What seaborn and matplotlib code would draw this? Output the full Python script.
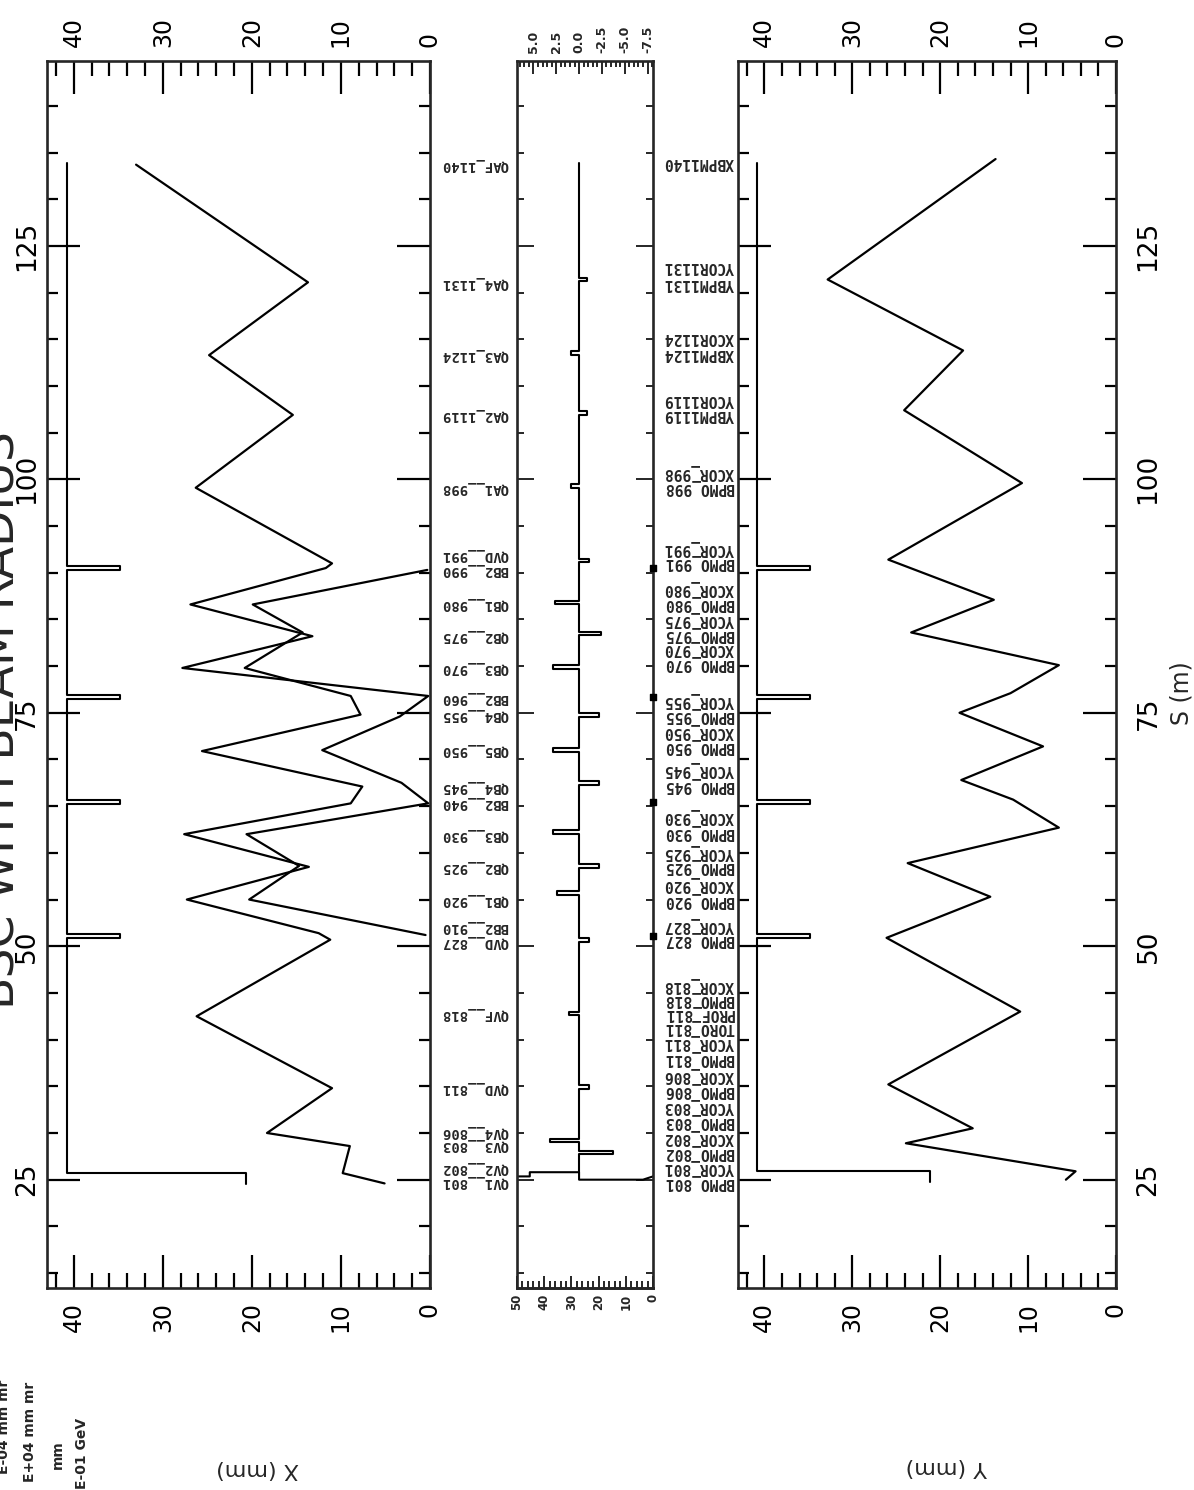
import matplotlib
matplotlib.use("Agg")
import matplotlib.pyplot as plt
import matplotlib.transforms as mtransforms
from matplotlib.ticker import MultipleLocator, FormatStrFormatter
import seaborn as sns
import pandas as pd

# ---------------- data ----------------
s_limits = (13.4, 144.8)

# horizontal envelope, drawn as two polylines (order of drawing)
x_line1_s = [133.7, 121.1, 113.3, 106.9, 99.1, 91.0, 90.5, 86.6, 83.2, 79.8, 76.8, 74.6,
             71.0, 67.5, 65.3, 62.0, 58.6, 55.0, 51.2]
x_line1_v = [33.0, 13.7, 24.8, 15.4, 26.3, 11.0, 11.7, 26.9, 13.2, 27.8, 0.2, 3.4,
             12.1, 3.2, 0.2, 20.6, 14.7, 20.3, 0.5]
x_line2_s = [90.3, 86.6, 83.6, 79.8, 76.8, 74.8, 70.9, 67.1, 65.3, 62.0, 58.5, 55.0,
             51.4, 50.7, 42.5, 34.8, 30.0, 28.6, 25.7, 24.6]
x_line2_v = [0.3, 19.9, 14.3, 20.8, 8.9, 7.8, 25.6, 7.6, 8.9, 27.6, 13.6, 27.3,
             12.5, 11.2, 26.2, 11.0, 18.3, 9.0, 9.8, 5.1]

# vertical envelope
y_line_s = [134.3, 121.4, 113.8, 107.4, 99.6, 91.4, 87.1, 83.6, 80.1, 77.1, 75.0, 71.4,
            67.8, 65.7, 62.7, 58.9, 55.3, 50.9, 43.0, 35.2, 30.5, 28.9, 25.9, 25.0]
y_line_v = [13.7, 32.8, 17.4, 24.1, 10.7, 25.9, 13.9, 23.3, 6.5, 12.0, 17.8, 8.3,
            17.6, 11.7, 6.5, 23.7, 14.3, 26.1, 10.9, 25.9, 16.3, 23.9, 4.6, 5.7]

# beam stay clear (aperture)
bsc_full = 40.8
bsc_bend = 34.8
bend_s = [51.1, 65.4, 76.7, 90.5]
bsc_end_s = 133.9
x_bsc_low_s = [24.5, 25.7]
x_bsc_low = 20.7
y_bsc_low_s = [24.8, 25.9]
y_bsc_low = 21.2

# middle strip: baseline 0 with kicks
mid_top_end = 133.9
mid_kick_s = [27.9, 29.2, 34.9, 42.8, 50.7, 55.7, 58.6, 62.2, 67.5, 71.0, 74.8, 79.9,
              83.5, 86.8, 91.3, 99.3, 107.1, 113.5, 121.4]
mid_kick_v = [-3.7, 3.2, -1.1, 1.1, -1.1, 2.4, -2.2, 2.9, -2.2, 2.9, -2.2, 2.9,
              -2.4, 2.6, -1.1, 0.85, -0.9, 0.9, -0.9]
mid_start_s = [25.35, 25.35, 25.8, 25.8, 25.0, 25.0, 25.35]
mid_start_v = [6.8, 5.4, 5.4, 0.0, 0.0, -7.0, -8.1]
mid_limits = (6.8, -8.1)
mid_bottom_limits = (50, 0)

# element names
x_elem = ["QV1__801", "QV2__802", "QV3__803", "QV4__806", "QVD__811", "QVF__818",
          "QVD__827", "BB2__910", "QB1__920", "QB2__925", "QB3__930", "BB2__940",
          "QB4__945", "QB5__950", "QB4__955", "BB2__960", "QB3__970", "QB2__975",
          "QB1__980", "BB2__990", "QVD__991", "QA1__998", "QA2_1119", "QA3_1124",
          "QA4_1131", "QAF_1140"]
x_elem_s = [24.7, 26.3, 28.7, 30.1, 34.8, 42.7, 50.5, 52.1, 55.0, 58.5, 61.9, 65.3,
            67.1, 71.0, 74.8, 76.6, 79.8, 83.2, 86.6, 90.3, 91.9, 99.1, 106.9, 113.3,
            121.0, 133.7]
y_elem = ["BPMO_801", "YCOR_801", "BPMO_802", "XCOR_802", "BPMO_803", "YCOR_803",
          "BPMO_806", "XCOR_806", "BPMO_811", "YCOR_811", "TORO_811", "PROF_811",
          "BPMO_818", "XCOR_818", "BPMO_827", "YCOR_827", "BPMO_920", "XCOR_920",
          "BPMO_925", "YCOR_925", "BPMO_930", "XCOR_930", "BPMO_945", "YCOR_945",
          "BPMO_950", "XCOR_950", "BPMO_955", "YCOR_955", "BPMO_970", "XCOR_970",
          "BPMO_975", "YCOR_975", "BPMO_980", "XCOR_980", "BPMO_991", "YCOR_991",
          "BPMO_998", "XCOR_998", "YBPM1119", "YCOR1119", "XBPM1124", "XCOR1124",
          "YBPM1131", "YCOR1131", "XBPM1140"]
y_elem_s = [24.8, 26.4, 28.0, 29.6, 31.3, 32.9, 34.6, 36.2, 38.0, 39.7, 41.3, 42.9,
            44.4, 45.9, 50.8, 52.3, 55.0, 56.7, 58.6, 60.1, 62.2, 63.9, 67.3, 69.0,
            71.4, 73.0, 74.8, 76.4, 80.3, 81.9, 83.4, 85.0, 86.8, 88.4, 91.1, 92.7,
            99.2, 100.8, 106.9, 108.5, 113.5, 115.2, 121.0, 122.8, 133.9]

info_lines = ["E-04 mm mr", "E+04 mm mr", "mm", "E-01 GeV"]

# ---------------- drawing ----------------
sns.set_style("ticks")
plt.rcParams["font.family"] = ["DejaVu Sans"]
plt.rcParams["axes.unicode_minus"] = False
plt.rcParams["axes.linewidth"] = 1.9

W, H = 1194, 1490
fig = plt.figure(figsize=(W / 100, H / 100), dpi=100)


def box(x0, x1, y0=61, y1=1288):
    return [x0 / W, 1 - y1 / H, (x1 - x0) / W, (y1 - y0) / H]


def draw(ax, s, v, lw=1.6):
    df = pd.DataFrame({"v": v, "s": s})
    sns.lineplot(data=df, x="v", y="s", sort=False, estimator=None,
                 color="black", lw=lw, ax=ax)
    ax.set_xlabel("")
    ax.set_ylabel("")


def steps(base, start, end, at, val, half):
    s, v = [start], [base]
    for a, b in sorted(zip(at, val)):
        s += [a - half, a - half, a + half, a + half]
        v += [base, b, b, base]
    return s + [end], v + [base]


ax_x = fig.add_axes(box(47, 430))
ax_m = fig.add_axes(box(517, 653))
ax_y = fig.add_axes(box(738, 1116))

# aperture lines: short low section, then full aperture with dips at the bends
for ax, low_s, low_v in ((ax_x, x_bsc_low_s, x_bsc_low), (ax_y, y_bsc_low_s, y_bsc_low)):
    s, v = steps(bsc_full, low_s[1], bsc_end_s, bend_s, [bsc_bend] * len(bend_s), 0.22)
    draw(ax, low_s + s, [low_v, low_v] + v, lw=1.5)

draw(ax_x, x_line1_s, x_line1_v)
draw(ax_x, x_line2_s, x_line2_v)
draw(ax_y, y_line_s, y_line_v)

for ax in (ax_x, ax_y):
    ax.set_xlim(43, 0)
    ax.set_ylim(*s_limits)
    ax.xaxis.set_major_locator(MultipleLocator(10))
    ax.xaxis.set_minor_locator(MultipleLocator(2))
    ax.yaxis.set_major_locator(MultipleLocator(25))
    ax.yaxis.set_minor_locator(MultipleLocator(5))
    ax.tick_params(which="both", direction="in", top=True, bottom=True,
                   left=True, right=True, width=1.6, colors="black")
    ax.tick_params(axis="x", which="major", length=24, labeltop=True,
                   labelbottom=True, labelrotation=90, labelsize=17, pad=10)
    ax.tick_params(axis="x", which="minor", length=11)
    ax.tick_params(axis="y", which="major", length=24, labelrotation=90,
                   labelsize=19)
    ax.tick_params(axis="y", which="minor", length=8)

ax_x.tick_params(axis="y", labelleft=True, labelright=False, pad=5)
ax_y.tick_params(axis="y", labelleft=False, labelright=True, pad=14)
for lab in ax_x.get_yticklabels() + ax_y.get_yticklabels():
    lab.set_verticalalignment("center")

# middle strip
s, v = steps(0.0, mid_start_s[3], mid_top_end, mid_kick_s, mid_kick_v, 0.2)
draw(ax_m, s, v, lw=1.5)
draw(ax_m, mid_start_s, mid_start_v, lw=1.5)
ax_m.set_xlim(*mid_limits)
ax_m.set_ylim(*s_limits)
ax_m.xaxis.set_major_locator(MultipleLocator(2.5))
ax_m.xaxis.set_minor_locator(MultipleLocator(0.5))
ax_m.xaxis.set_major_formatter(FormatStrFormatter("%.1f"))
ax_m.yaxis.set_major_locator(MultipleLocator(25))
ax_m.yaxis.set_minor_locator(MultipleLocator(5))
ax_m.tick_params(which="both", direction="in", left=True, right=True, width=1.4,
                 labelleft=False)
ax_m.tick_params(axis="x", which="both", top=True, bottom=False, labeltop=True,
                 labelbottom=False, labelrotation=90)
ax_m.tick_params(axis="x", which="major", length=9, labelsize=9, pad=6)
ax_m.tick_params(axis="x", which="minor", length=4)
ax_m.tick_params(axis="y", which="major", length=12)
ax_m.tick_params(axis="y", which="minor", length=5)
for lab in ax_m.get_xticklabels():
    lab.set_fontweight("bold")

lo, hi = mid_limits
blo, bhi = mid_bottom_limits
sec = ax_m.secondary_xaxis(
    "bottom",
    functions=(lambda t: bhi + (t - hi) * (blo - bhi) / (lo - hi),
               lambda b: hi + (b - bhi) * (lo - hi) / (blo - bhi)))
sec.xaxis.set_major_locator(MultipleLocator(10))
sec.xaxis.set_minor_locator(MultipleLocator(2))
sec.tick_params(which="both", direction="in", width=1.4, labelrotation=90)
sec.tick_params(which="major", length=9, labelsize=8.5, pad=4)
sec.tick_params(which="minor", length=5)
for lab in sec.get_xticklabels():
    lab.set_fontweight("bold")

# bend markers on the right edge of the strip
ax_m.scatter([mid_limits[1]] * len(bend_s), bend_s, marker="s", s=14,
             color="black", clip_on=False, zorder=5)

# element labels (upside down, as in the rotated print)
tr_x = mtransforms.blended_transform_factory(fig.transFigure, ax_x.transData)
for name, sv in zip(x_elem, x_elem_s):
    fig.text(508 / W, sv, name, transform=tr_x, rotation=180, ha="right",
             va="center", family="DejaVu Sans Mono", fontweight="bold", fontsize=10)
tr_y = mtransforms.blended_transform_factory(fig.transFigure, ax_y.transData)
for name, sv in zip(y_elem, y_elem_s):
    fig.text(734 / W, sv, name, transform=tr_y, rotation=180, ha="right",
             va="center", family="DejaVu Sans Mono", fontweight="bold", fontsize=10.5)

# axis titles
fig.text(258 / W, 1 - 1469 / H, "X (mm)", rotation=180, ha="center", va="center",
         fontsize=16)
fig.text(946 / W, 1 - 1467 / H, "Y (mm)", rotation=180, ha="center", va="center",
         fontsize=16)
fig.text(1181 / W, 1 - 693 / H, "S (m)", rotation=90, ha="center", va="center",
         fontsize=17)
fig.text(2 / W, 1 - 720 / H, "BSC WITH BEAM RADIUS", rotation=90, ha="center",
         va="center", fontsize=34)

# clipped run-parameter lines in the lower left corner
for xp, yp, txt in zip([4, 30, 58, 82], [1380, 1382, 1440, 1418], info_lines):
    fig.text(xp / W, 1 - yp / H, txt, rotation=90, ha="center", va="top",
             fontsize=10, fontweight="bold")

fig.savefig("out.png", dpi=100)
